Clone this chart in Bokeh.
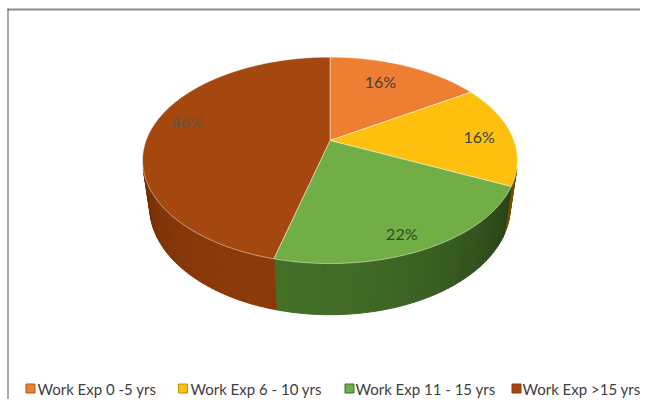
import numpy as np
from bokeh.plotting import figure
from bokeh.models import Range1d
from bokeh.embed import file_html
from bokeh.resources import INLINE
from bokeh.core.properties import value

# ---------------- data ----------------
categories = ["Work Exp 0  -5 yrs", "Work Exp 6 - 10 yrs", "Work Exp 11 - 15 yrs", "Work Exp >15 yrs"]
shares = [16, 16, 22, 46]
pct_labels = ["16%", "16%", "22%", "46%"]
top_colors = ["#EE7E32", "#FDC00E", "#71AE45", "#A5480F"]
side_colors = ["#B35A1E", "#C29000", "#436F27", "#8C3A09"]

# ---------------- layout / projection ----------------
PHI = np.radians(32.7)
C, S = np.cos(PHI), np.sin(PHI)
D = 4.376
K = 805.0
CX, CY = 329.5, 140.0
H = 0.31
label_r = [0.70, 0.82, 0.80, 0.78]
label_dx = [-5, 0, -1, -3]
label_dy = [-4, 1, 9, -9]
legend_sq_x = [30, 182.5, 349, 516]
legend_tx_x = [37, 190, 355, 522]
legend_y = 388


def project(theta, r=1.0, h=0.0):
    x = r * np.sin(theta)
    z = r * np.cos(theta)
    y = -h
    depth = D - y * S + z * C
    up = y * C + z * S
    return CX + K * x / depth, CY - K * up / depth


def rgb_scale(hexc, f):
    hexc = hexc.lstrip("#")
    r, g, b = (int(hexc[i:i + 2], 16) for i in (0, 2, 4))
    r, g, b = (max(0, min(255, int(round(v * f)))) for v in (r, g, b))
    return "#%02x%02x%02x" % (r, g, b)


p = figure(width=640, height=399, output_backend="svg", toolbar_location=None,
           x_range=Range1d(0, 640), y_range=Range1d(399, 0),
           x_axis_type=None, y_axis_type=None, min_border=0)
p.grid.visible = False
p.outline_line_color = None
p.background_fill_color = "white"

# border lines of chart area
p.line([7, 640], [9, 9], line_color="#8a8a8a", line_width=2)
p.line([7.5, 7.5], [8, 399], line_color="#555555", line_width=1)

total = float(sum(shares))
bounds = np.concatenate([[0.0], np.cumsum(shares) / total]) * 2 * np.pi

# visible side range of cylinder
lim = np.arccos(-1.0 / (D * C))
vis_a, vis_b = lim, 2 * np.pi - lim

# side walls
for i in range(len(shares)):
    a, b = max(bounds[i], vis_a), min(bounds[i + 1], vis_b)
    if b <= a:
        continue
    n = max(2, int(np.degrees(b - a) / 1.5))
    ts = np.linspace(a, b, n + 1)
    xs_list, ys_list, cols = [], [], []
    for t0, t1 in zip(ts[:-1], ts[1:]):
        tt = np.linspace(t0, t1, 4)
        xt, yt = project(tt)
        xb, yb = project(tt[::-1], h=H)
        xs_list.append(list(np.concatenate([xt, xb])))
        ys_list.append(list(np.concatenate([yt, yb])))
        tm = 0.5 * (t0 + t1)
        f = 0.55 + 0.45 * np.cos(tm - np.radians(200))
        cols.append(rgb_scale(side_colors[i], f))
    p.patches(xs_list, ys_list, fill_color=cols, line_color=cols, line_width=1)

# top faces
for i in range(len(shares)):
    tt = np.linspace(bounds[i], bounds[i + 1], max(8, int(np.degrees(bounds[i + 1] - bounds[i]) * 2)))
    xa, ya = project(tt)
    xs = np.concatenate([[CX], xa])
    ys = np.concatenate([[CY], ya])
    p.patch(list(xs), list(ys), fill_color=top_colors[i], line_color="white",
            line_alpha=0.45, line_width=1)

# percentage labels
lx, ly = [], []
for i in range(len(shares)):
    tm = 0.5 * (bounds[i] + bounds[i + 1])
    x, y = project(tm, r=label_r[i])
    lx.append(x + label_dx[i])
    ly.append(y + label_dy[i])
label_colors = ["#404040", "#404040", "#2f4a22", "#5e524d"]
p.text(lx, ly, text=pct_labels, text_color=label_colors, text_align="center",
       text_baseline="middle", text_font=value("Lato"), text_font_size="16px")

# legend
p.scatter(legend_sq_x, [legend_y] * 4, marker="square", size=9, fill_color=top_colors,
          line_color=side_colors, line_width=1)
p.text(legend_tx_x, [legend_y] * 4, text=categories, text_color="#404040",
       text_align="left", text_baseline="middle", text_font=value("Lato"),
       text_font_size="15px")

open("out.html", "w").write(file_html(p, INLINE))
